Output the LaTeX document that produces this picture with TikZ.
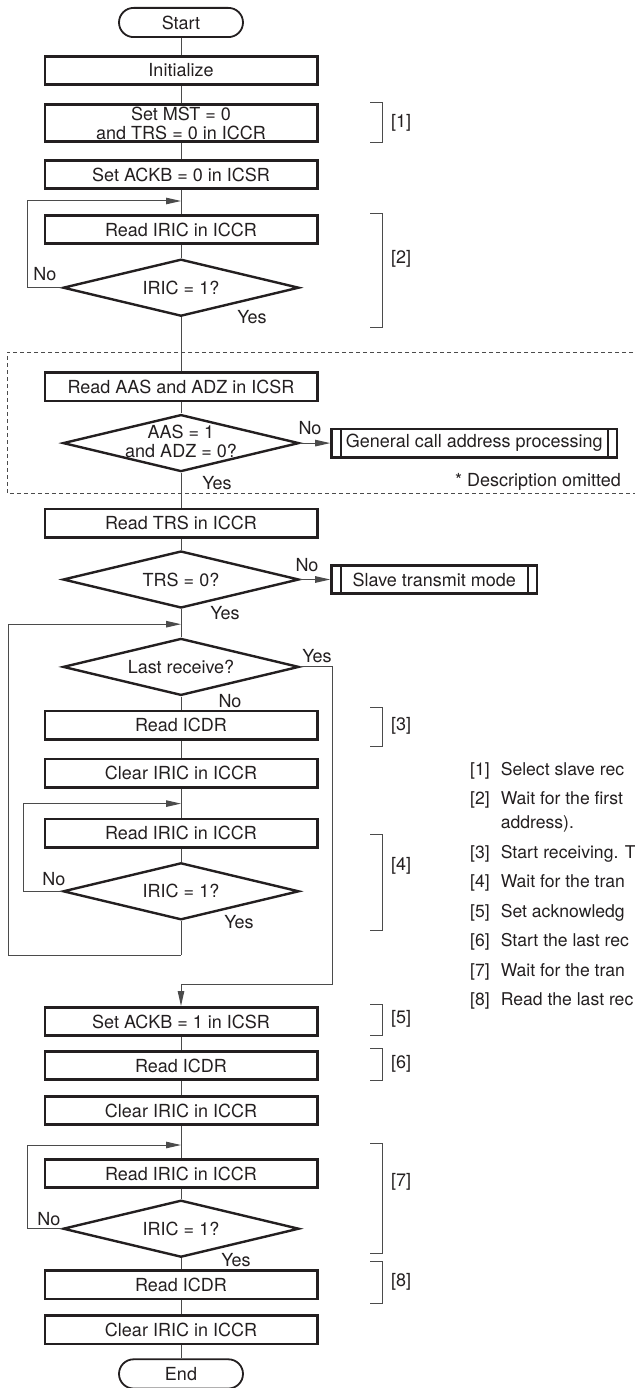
\documentclass[tikz,border=0pt]{standalone}
\usepackage{fontspec}
\setmainfont{TeX Gyre Heros}
\usetikzlibrary{arrows.meta, positioning, shapes.geometric, calc}
\definecolor{FlowInk}{RGB}{35, 31, 32}
\definecolor{FlowWire}{RGB}{75, 75, 75}

\begin{document}
\begin{tikzpicture}[
        x = 1pt, y = -1pt,
        font = \fontsize{18}{19}\selectfont,
        box/.style = {draw = FlowInk, line width = 2.6pt, minimum width = 272.4pt, minimum height = 28.4pt, inner sep = 0pt, align = center, text = FlowInk},
        term/.style = {draw = FlowInk, line width = 1.8pt, rounded corners = 14.6pt, minimum width = 124pt, minimum height = 29.2pt, inner sep = 0pt, text = FlowInk},
        dec/.style = {diamond, aspect = 4.15, draw = FlowInk, line width = 2.4pt, minimum width = 236pt, minimum height = 57pt, inner sep = 0pt, align = center, text = FlowInk},
        sub/.style = {draw = FlowInk, line width = 2.6pt, minimum height = 28.4pt, inner sep = 0pt, text = FlowInk,
            path picture = {\draw[FlowInk, line width = 2pt]
                ([xshift = 9pt]path picture bounding box.north west) -- ([xshift = 9pt]path picture bounding box.south west)
                ([xshift = -9pt]path picture bounding box.north east) -- ([xshift = -9pt]path picture bounding box.south east);}},
        lab/.style = {inner sep = 0pt, text = FlowInk},
        lnk/.style = {FlowWire, line width = 1pt},
        arr/.style = {lnk, -{Triangle[length = 15pt, width = 6.5pt]}},
        brk/.style = {FlowWire, line width = 1pt},
        fence/.style = {FlowWire, line width = 1pt, dash pattern = on 4pt off 3pt}
    ]
        \useasboundingbox (0, 0) rectangle (634, 1388);

        % main column
        \node[term] (start) at (181, 22.5) {Start};
        \node[box, below = 17pt of start] (init) {Initialize};
        \node[box, below = 17pt of init, minimum height = 37.4pt] (mst) {Set MST = 0\\and TRS = 0 in ICCR};
        \node[box, below = 16pt of mst] (ackb0) {Set ACKB = 0 in ICSR};
        \node[box, below = 24pt of ackb0] (rd1) {Read IRIC in ICCR};
        \node[dec, below = 13pt of rd1] (d1) {IRIC = 1?};
        \node[box, below = 54pt of d1] (rdaas) {Read AAS and ADZ in ICSR};
        \node[dec, below = 11pt of rdaas] (d2) {};
        \node[lab, align = center] (d2t) at ([yshift = 2pt]d2) {AAS = 1\\and ADZ = 0?};
        \node[box, below = 35pt of d2] (rdtrs) {Read TRS in ICCR};
        \node[dec, below = 11pt of rdtrs] (d3) {TRS = 0?};
        \node[dec, below = 28pt of d3] (d4) {Last receive?};
        \node[box, below = 13pt of d4] (rdicdr1) {Read ICDR};
        \node[box, below = 17pt of rdicdr1] (clr1) {Clear IRIC in ICCR};
        \node[box, below = 29pt of clr1] (rd2) {Read IRIC in ICCR};
        \node[dec, below = 13pt of rd2] (d5) {IRIC = 1?};
        \node[box, below = 85pt of d5] (ackb1) {Set ACKB = 1 in ICSR};
        \node[box, below = 13pt of ackb1] (rdicdr2) {Read ICDR};
        \node[box, below = 14pt of rdicdr2] (clr2) {Clear IRIC in ICCR};
        \node[box, below = 32pt of clr2] (rd3) {Read IRIC in ICCR};
        \node[dec, below = 10pt of rd3] (d6) {IRIC = 1?};
        \node[box, below = 11pt of d6] (rdicdr3) {Read ICDR};
        \node[box, below = 14pt of rdicdr3] (clr3) {Clear IRIC in ICCR};
        \node[term, below = 13pt of clr3] (end) {End};

        % side processes
        \node[sub, right = 30pt of d2, minimum width = 285.4pt] (gcap) {General call address processing};
        \node[sub, right = 30pt of d3, minimum width = 205.4pt] (slave) {Slave transmit mode};

        % junctions
        \coordinate[below = 11pt of ackb0] (j1);
        \coordinate[below = 15pt of d3] (j2);
        \coordinate[below = 15pt of clr1] (j3);
        \coordinate[below = 19pt of clr2] (j4);
        \coordinate[below = 34pt of d5] (r1);

        % straight links
        \draw[lnk] (start.south) -- (init.north);
        \draw[lnk] (init.south) -- (mst.north);
        \draw[lnk] (mst.south) -- (ackb0.north);
        \draw[lnk] (ackb0.south) -- (rd1.north);
        \draw[lnk] (rd1.south) -- (d1.north);
        \draw[lnk] (d1.south) -- (rdaas.north);
        \draw[lnk] (rdaas.south) -- (d2.north);
        \draw[lnk] (d2.south) -- (rdtrs.north);
        \draw[lnk] (rdtrs.south) -- (d3.north);
        \draw[lnk] (d3.south) -- (d4.north);
        \draw[lnk] (d4.south) -- (rdicdr1.north);
        \draw[lnk] (rdicdr1.south) -- (clr1.north);
        \draw[lnk] (clr1.south) -- (rd2.north);
        \draw[lnk] (rd2.south) -- (d5.north);
        \draw[lnk] (d5.south) -- (r1);
        \draw[lnk] (ackb1.south) -- (rdicdr2.north);
        \draw[lnk] (rdicdr2.south) -- (clr2.north);
        \draw[lnk] (clr2.south) -- (rd3.north);
        \draw[lnk] (rd3.south) -- (d6.north);
        \draw[lnk] (d6.south) -- (rdicdr3.north);
        \draw[lnk] (rdicdr3.south) -- (clr3.north);
        \draw[lnk] (clr3.south) -- (end.north);

        % loops and branches
        \draw[arr] (d1.west) -- ++(-34, 0) |- (j1);
        \draw[arr] (d2.east) -- (gcap.west);
        \draw[arr] (d3.east) -- (slave.west);
        \draw[arr] (d4.east) -- ++(32, 0) |- ([yshift = 22pt]ackb1.north) -- (ackb1.north);
        \draw[arr] (d5.west) -- ++(-38, 0) |- (j3);
        \draw[arr] (r1) -| ([xshift = -173pt]j2) -- (j2);
        \draw[arr] (d6.west) -- ++(-34, 0) |- (j4);

        \node[lab] (yes1) at ([shift = {(71, 29)}]d1) {Yes};
        \node[lab] (no1) at ([shift = {(-136, -14)}]d1) {No};
        \node[lab] (yes2) at ([shift = {(36, 40)}]d2) {Yes};
        \node[lab] (no2) at ([shift = {(129, -15)}]d2) {No};
        \node[lab] (no3) at ([shift = {(126, -14)}]d3) {No};
        \node[lab] (yes3) at ([shift = {(44, 34)}]d3) {Yes};
        \node[lab] (yes4) at ([shift = {(136, -11)}]d4) {Yes};
        \node[lab] (no4) at ([shift = {(49, 34)}]d4) {No};
        \node[lab] (no5) at ([shift = {(-127, -12)}]d5) {No};
        \node[lab] (yes5) at ([shift = {(58, 31)}]d5) {Yes};
        \node[lab] (no6) at ([shift = {(-132, -10)}]d6) {No};
        \node[lab] (yes6) at ([shift = {(55, 31)}]d6) {Yes};

        % omitted part
        \draw[fence] (640, 352) -| (7, 493) -- (640, 493);
        \node[lab, anchor = east] (omit) at (621, 482) {* Description omitted};

        % step brackets
        \draw[brk] (370, 103) -| (382, 143) -- (370, 143);
        \node[lab, anchor = west] (tag1) at (391, 123) {[1]};
        \draw[brk] (370, 214) -| (382, 327) -- (370, 327);
        \node[lab, anchor = west] (tag2) at (391, 259) {[2]};
        \draw[brk] (370, 707) -| (382, 746) -- (370, 746);
        \node[lab, anchor = west] (tag3) at (391, 726) {[3]};
        \draw[brk] (370, 834) -| (382, 930) -- (370, 930);
        \node[lab, anchor = west] (tag4) at (391, 866) {[4]};
        \draw[brk] (370, 1004) -| (382, 1035) -- (370, 1035);
        \node[lab, anchor = west] (tag5) at (391, 1019) {[5]};
        \draw[brk] (370, 1048) -| (382, 1080) -- (370, 1080);
        \node[lab, anchor = west] (tag6) at (391, 1064) {[6]};
        \draw[brk] (370, 1143) -| (382, 1253) -- (370, 1253);
        \node[lab, anchor = west] (tag7) at (391, 1182) {[7]};
        \draw[brk] (370, 1261) -| (382, 1303) -- (370, 1303);
        \node[lab, anchor = west] (tag8) at (391, 1282) {[8]};

        \node[lab, anchor = north west, align = left] (notes) at (470, 758) {%
            \fontsize{17.6}{24}\selectfont
            \begin{tabular}{@{}l@{\hspace{11pt}}l@{}}
                [1] & Select slave rec\\[5.5pt]
                [2] & Wait for the first\\
                    & address).\\[5.5pt]
                [3] & Start receiving. T\\[5.5pt]
                [4] & Wait for the tran\\[5.5pt]
                [5] & Set acknowledg\\[5.5pt]
                [6] & Start the last rec\\[5.5pt]
                [7] & Wait for the tran\\[5.5pt]
                [8] & Read the last rec
            \end{tabular}
        };
    \end{tikzpicture}
\end{document}
